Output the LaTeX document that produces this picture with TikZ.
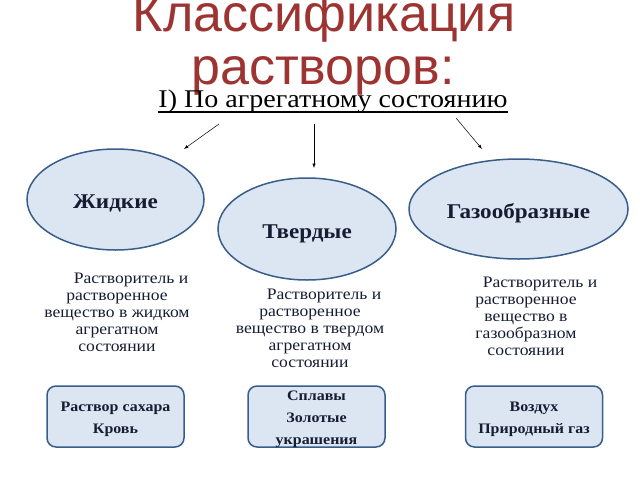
\documentclass[tikz,border=0pt]{standalone}
\usepackage{fontspec}
\setmainfont[FakeStretch=1.1]{Liberation Serif}
\newfontfamily\headfont{Liberation Sans}
\usetikzlibrary{shapes.geometric,calc}
\definecolor{headred}{RGB}{158,52,50}
\definecolor{blobfill}{RGB}{220,230,242}
\definecolor{blobline}{RGB}{56,93,138}
\definecolor{ink}{RGB}{22,28,50}

\begin{document}
\begin{tikzpicture}[x=1pt,y=-1pt,>=latex,
    blob/.style={ellipse,draw=blobline,fill=blobfill,line width=1.5pt,inner sep=0pt,text=ink,text height=18pt,text depth=0pt,font=\fontsize{21}{24}\selectfont\bfseries},
    card/.style={rectangle,rounded corners=9pt,draw=blobline,fill=blobfill,line width=1.5pt,minimum width=137pt,minimum height=61pt,inner sep=0pt},
    cardtext/.style={inner sep=0pt,align=center,text=ink,font=\fontsize{14.5}{22}\selectfont\bfseries},
    note/.style={anchor=north,inner sep=0pt,align=center,text=ink,font=\fontsize{16}{17}\selectfont}]
    \useasboundingbox (0,0) rectangle (640,480);

    % heading
    \node[anchor=base,text=headred,font=\headfont\fontsize{52}{53}\selectfont] (head1) at (324,31) {Классификация};
    \node[anchor=base,text=headred,font=\headfont\fontsize{52}{53}\selectfont] (head2) at (323,84) {растворов:};
    \node[anchor=base,inner sep=0pt,font=\fontsize{25.5}{27}\selectfont] (sub) at (333,107) {I) По агрегатному состоянию};
    \draw[line width=1.2pt] ($(sub.base west)+(0,5)$) -- ($(sub.base east)+(0,5)$);

    % the three states
    \node[blob,minimum width=177pt,minimum height=101pt] (liquid) at (115.5,199.5) {Жидкие};
    \node[blob,minimum width=178pt,minimum height=102pt] (solid) at (307,229) {Твердые};
    \node[blob,minimum width=219pt,minimum height=100pt] (gas) at (518.5,209) {Газообразные};

    % arrows from the heading
    \coordinate (a1) at (219,124);
    \coordinate (a2) at (314,124);
    \coordinate (a3) at (456,118);
    \coordinate (b1) at (184,149);
    \coordinate (b2) at (314,168);
    \coordinate (b3) at (482,149);
    \draw[->,line width=0.5pt] (a1) -- (b1);
    \draw[->,line width=0.5pt] (a2) -- (b2);
    \draw[->,line width=0.5pt] (a3) -- (b3);

    % explanations
    \node[note] (liquidtxt) at (117,273) {\hspace*{28pt}Растворитель и\\растворенное\\вещество в жидком\\агрегатном\\состоянии};
    \node[note] (solidtxt) at (310,289) {\hspace*{28pt}Растворитель и\\растворенное\\вещество в твердом\\агрегатном\\состоянии};
    \node[note] (gastxt) at (526,277) {\hspace*{28pt}Растворитель и\\растворенное\\вещество в\\газообразном\\состоянии};

    % examples
    \node[card] (liquidex) at (115.5,416.5) {};
    \node[card] (solidex) at (316.5,416.5) {};
    \node[card] (gasex) at (534,416.5) {};
    \node[cardtext] (liquidextxt) at ($(liquidex)+(0,3)$) {Раствор сахара\\Кровь};
    \node[cardtext] (solidextxt) at ($(solidex)+(0,3)$) {Сплавы\\Золотые\\украшения};
    \node[cardtext] (gasextxt) at ($(gasex)+(0,3)$) {Воздух\\Природный газ};

\end{tikzpicture}
\end{document}
